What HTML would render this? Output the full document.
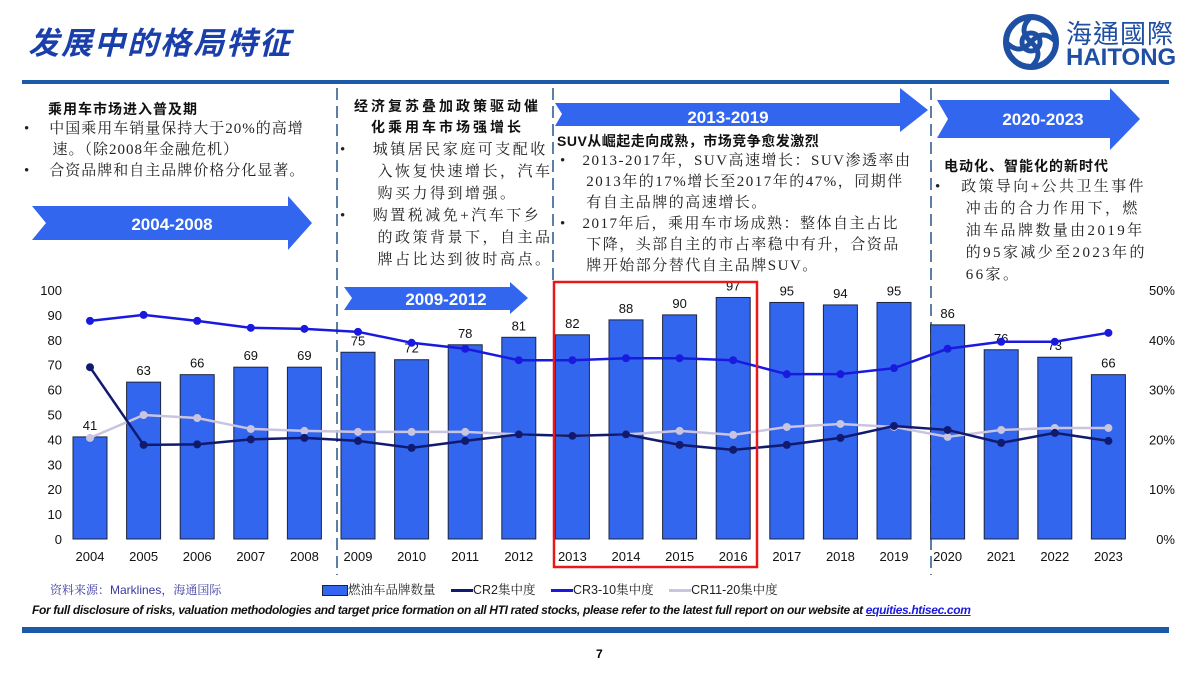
<!DOCTYPE html>
<html><head><meta charset="utf-8"><style>
body{margin:0;width:1200px;height:675px;background:#fff;position:relative;overflow:hidden;font-family:"Liberation Sans","Noto Sans CJK SC",sans-serif;}
.abs{position:absolute}
.t{font-family:"Liberation Serif","Noto Serif CJK SC",serif;font-size:15px;line-height:21px;color:#222;white-space:nowrap}
.h{font-family:"Liberation Sans","Noto Sans CJK SC",sans-serif;font-weight:bold;font-size:14px;color:#111;white-space:nowrap}
</style></head><body>
<div class="abs" style="left:28px;top:18px;font-size:31px;font-weight:bold;color:#1a3faa;font-family:'Liberation Sans','Noto Sans CJK SC',sans-serif;font-style:italic;letter-spacing:2px">发展中的格局特征</div>
<div class="abs" style="left:1003px;top:12px;width:190px;height:60px">
 <svg width="56" height="56" viewBox="0 0 56 56" style="position:absolute;left:0;top:2px"><circle cx="28" cy="28" r="25" fill="none" stroke="#1f4fa3" stroke-width="6"/><circle cx="28" cy="28" r="9" fill="none" stroke="#1f4fa3" stroke-width="5"/><path d="M28 3 Q14 16 28 28 Q42 40 28 53 M3 28 Q16 42 28 28 Q40 14 53 28" fill="none" stroke="#1f4fa3" stroke-width="5"/></svg>
 <div class="abs" style="left:63px;top:2px;font-size:26px;color:#1f4fa3;font-family:'Liberation Sans','Noto Sans CJK TC',sans-serif;letter-spacing:1px">海通國際</div>
 <div class="abs" style="left:63px;top:32px;font-size:24px;font-weight:bold;color:#1f4fa3">HAITONG</div>
</div>
<div class="abs" style="left:22px;top:80px;width:1147px;height:4px;background:#1b5aa8"></div>
<div class="abs" style="left:22px;top:627px;width:1147px;height:6px;background:#1b5aa8"></div>
<div class="abs" style="left:596px;top:647px;font-size:12px;font-weight:bold">7</div>

<div class="abs h" style="left:48px;top:99px;letter-spacing:1px">乘用车市场进入普及期</div>
<div class="abs t" style="left:24px;top:119px;letter-spacing:1px">•&nbsp;&nbsp;&nbsp;&nbsp;中国乘用车销量保持大于20%的高增<br>&nbsp;&nbsp;&nbsp;&nbsp;&nbsp;&nbsp;速。（除2008年金融危机）<br>•&nbsp;&nbsp;&nbsp;&nbsp;合资品牌和自主品牌价格分化显著。</div>
<div class="abs h" style="left:345px;top:96px;width:205px;text-align:center;line-height:21px;letter-spacing:3px">经济复苏叠加政策驱动催<br>化乘用车市场强增长</div>
<div class="abs t" style="left:340px;top:139px;line-height:22px;letter-spacing:2.5px">•&nbsp;&nbsp;&nbsp;&nbsp;城镇居民家庭可支配收<br>&nbsp;&nbsp;&nbsp;&nbsp;&nbsp;&nbsp;入恢复快速增长，汽车<br>&nbsp;&nbsp;&nbsp;&nbsp;&nbsp;&nbsp;购买力得到增强。<br>•&nbsp;&nbsp;&nbsp;&nbsp;购置税减免+汽车下乡<br>&nbsp;&nbsp;&nbsp;&nbsp;&nbsp;&nbsp;的政策背景下，自主品<br>&nbsp;&nbsp;&nbsp;&nbsp;&nbsp;&nbsp;牌占比达到彼时高点。</div>
<div class="abs h" style="left:557px;top:131px;letter-spacing:0.5px">SUV从崛起走向成熟，市场竞争愈发激烈</div>
<div class="abs t" style="left:560px;top:151px;line-height:21px;letter-spacing:1.5px">•&nbsp;&nbsp;&nbsp;2013-2017年，SUV高速增长：SUV渗透率由<br>&nbsp;&nbsp;&nbsp;&nbsp;&nbsp;2013年的17%增长至2017年的47%，同期伴<br>&nbsp;&nbsp;&nbsp;&nbsp;&nbsp;有自主品牌的高速增长。<br>•&nbsp;&nbsp;&nbsp;2017年后，乘用车市场成熟：整体自主占比<br>&nbsp;&nbsp;&nbsp;&nbsp;&nbsp;下降，头部自主的市占率稳中有升，合资品<br>&nbsp;&nbsp;&nbsp;&nbsp;&nbsp;牌开始部分替代自主品牌SUV。</div>
<div class="abs h" style="left:944px;top:156px;letter-spacing:1px">电动化、智能化的新时代</div>
<div class="abs t" style="left:935px;top:176px;line-height:22px;letter-spacing:2.4px">•&nbsp;&nbsp;&nbsp;政策导向+公共卫生事件<br>&nbsp;&nbsp;&nbsp;&nbsp;&nbsp;冲击的合力作用下，燃<br>&nbsp;&nbsp;&nbsp;&nbsp;&nbsp;油车品牌数量由2019年<br>&nbsp;&nbsp;&nbsp;&nbsp;&nbsp;的95家减少至2023年的<br>&nbsp;&nbsp;&nbsp;&nbsp;&nbsp;66家。</div>

<svg class="abs" style="left:0;top:0" width="1200" height="675" id="ov">
 <g stroke="#5b7fa6" stroke-width="2" stroke-dasharray="12,6">
  <line x1="337" y1="88" x2="337" y2="575"/><line x1="553" y1="88" x2="553" y2="280"/><line x1="931" y1="88" x2="931" y2="575"/>
 </g>
 <g><polygon points="32,206 288,206 288,196 312,223 288,250 288,240 32,240 46,223" fill="#3366ee"/><text x="172" y="230" fill="#fff" font-size="17" font-weight="bold" text-anchor="middle">2004-2008</text></g>
 <g><polygon points="344,287 510,287 510,282 528,298 510,314 510,310 344,310 352,298" fill="#3366ee"/><text x="446" y="305" fill="#fff" font-size="17" font-weight="bold" text-anchor="middle">2009-2012</text></g>
 <g><polygon points="555,103 900,103 900,88 928,110 900,132 900,126 555,126 562,114" fill="#3366ee"/><text x="728" y="123" fill="#fff" font-size="17" font-weight="bold" text-anchor="middle">2013-2019</text></g>
 <g><polygon points="937,100 1110,100 1110,88 1140,119 1110,150 1110,138 937,138 948,119" fill="#3366ee"/><text x="1043" y="125" fill="#fff" font-size="17" font-weight="bold" text-anchor="middle">2020-2023</text></g>
 <g id="chart"></g>
 <rect x="554" y="282" width="203" height="285" fill="none" stroke="#e8191c" stroke-width="2.5"/>
</svg>

<div class="abs" style="left:50px;top:581px;font-size:12px;color:#3a3aa0;font-family:'Liberation Sans','Noto Serif CJK SC',serif">资料来源：Marklines，海通国际</div>
<div class="abs" style="left:322px;top:580px;font-size:12.5px;color:#222;font-family:'Liberation Sans','Noto Serif CJK SC',sans-serif;white-space:nowrap">
 <span><span style="display:inline-block;width:24px;height:9px;background:#3366ee;border:1px solid #223;vertical-align:middle"></span>燃油车品牌数量</span>
 <span style="margin-left:12px"><span style="display:inline-block;width:22px;height:3px;background:#101a6e;vertical-align:middle"></span>CR2集中度</span>
 <span style="margin-left:12px"><span style="display:inline-block;width:22px;height:3px;background:#1a1adf;vertical-align:middle"></span>CR3-10集中度</span>
 <span style="margin-left:12px"><span style="display:inline-block;width:22px;height:3px;background:#c9c4df;vertical-align:middle"></span>CR11-20集中度</span>
</div>
<div class="abs" style="left:32px;top:603px;font-size:12px;font-weight:bold;font-style:italic;color:#111;letter-spacing:-0.35px;white-space:nowrap">For full disclosure of risks, valuation methodologies and target price formation on all HTI rated stocks, please refer to the latest full report on our website at <span style="color:#1a1adf;text-decoration:underline">equities.htisec.com</span></div>

<script>
const years=["2004","2005","2006","2007","2008","2009","2010","2011","2012","2013","2014","2015","2016","2017","2018","2019","2020","2021","2022","2023"];
const brandCounts=[41,63,66,69,69,75,72,78,81,82,88,90,97,95,94,95,86,76,73,66];
const cr2=[34.5,18.9,19,20,20.3,19.7,18.3,19.7,21,20.7,21,18.9,17.9,18.9,20.3,22.7,21.9,19.3,21.3,19.7];
const cr3to10=[43.8,45,43.8,42.4,42.2,41.6,39.4,38.2,35.9,35.9,36.3,36.3,35.9,33.1,33.1,34.3,38.2,39.6,39.6,41.4];
const cr11to20=[20.3,24.9,24.3,22.1,21.7,21.5,21.5,21.5,21,20.7,21,21.7,20.9,22.5,23.1,22.5,20.5,21.9,22.3,22.3];
const leftTicks=[0,10,20,30,40,50,60,70,80,90,100];
const rightTicks=["0%","10%","20%","30%","40%","50%"];
const NS="http://www.w3.org/2000/svg";
const g=document.getElementById('chart');
const y0=539,y1=290;
const xS=i=>90+i*53.6;
const yL=v=>y0-(v/100)*(y0-y1);
const yR=v=>y0-(v/50)*(y0-y1);
function mk(t,a,p){const e=document.createElementNS(NS,t);for(const k in a)e.setAttribute(k,a[k]);(p||g).appendChild(e);return e;}
leftTicks.forEach(v=>{const e=mk('text',{x:62,y:yL(v)+5,'text-anchor':'end','font-size':13,fill:'#111'});e.textContent=v;

});
rightTicks.forEach((s,i)=>{const e=mk('text',{x:1175,y:yR(i*10)+5,'text-anchor':'end','font-size':13,fill:'#111'});e.textContent=s;

});
years.forEach((yr,i)=>{const x=xS(i);
const r=mk('rect',{x:x-17,y:yL(brandCounts[i]),width:34,height:y0-yL(brandCounts[i]),fill:'#3366ee',stroke:'#1c2640','stroke-width':1});


const l=mk('text',{x:x,y:yL(brandCounts[i])-7,'text-anchor':'middle','font-size':13,fill:'#111'});l.textContent=brandCounts[i];


const t=mk('text',{x:x,y:561,'text-anchor':'middle','font-size':13,fill:'#111'});t.textContent=yr;

});
function line(vals,color,name){const pts=vals.map((v,i)=>xS(i)+','+yR(v)).join(' ');
const p=mk('polyline',{points:pts,fill:'none',stroke:color,'stroke-width':2.5});


vals.forEach((v,i)=>{const c=mk('circle',{cx:xS(i),cy:yR(v),r:4,fill:color});

});}
line(cr11to20,'#c9c4df','cr11-20');
line(cr2,'#101a6e','cr2');
line(cr3to10,'#1a1adf','cr3-10');
</script>
</body></html>
